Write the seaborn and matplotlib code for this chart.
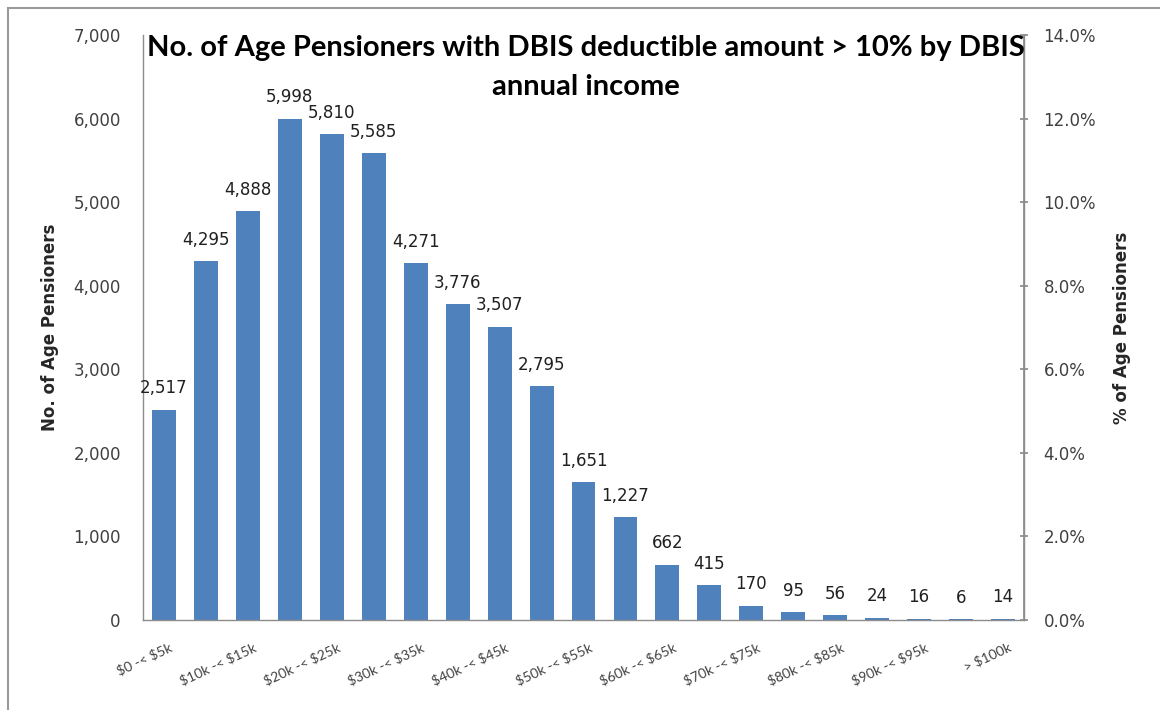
import matplotlib
matplotlib.use("Agg")
import matplotlib.pyplot as plt
import matplotlib.ticker as mticker
from matplotlib.patches import Rectangle
import seaborn as sns
import pandas as pd

categories = ["$0 -< $5k", "$5k -< $10k", "$10k -< $15k", "$15k -< $20k", "$20k -< $25k",
              "$25k -< $30k", "$30k -< $35k", "$35k -< $40k", "$40k -< $45k", "$45k -< $50k",
              "$50k -< $55k", "$55k -< $60k", "$60k -< $65k", "$65k -< $70k", "$70k -< $75k",
              "$75k -< $80k", "$80k -< $85k", "$85k -< $90k", "$90k -< $95k", "$95k -< $100k",
              "> $100k"]
counts = [2517, 4295, 4888, 5998, 5810, 5585, 4271, 3776, 3507, 2795,
          1651, 1227, 662, 415, 170, 95, 56, 24, 16, 6, 14]
left_ticks = [0, 1000, 2000, 3000, 4000, 5000, 6000, 7000]
right_ticks = [0.0, 0.02, 0.04, 0.06, 0.08, 0.10, 0.12, 0.14]

title = "No. of Age Pensioners with DBIS deductible amount > 10% by DBIS\nannual income"
ylabel_left = "No. of Age Pensioners"
ylabel_right = "% of Age Pensioners"

sns.set_theme(style="white")
plt.rcParams['font.family'] = ['DejaVu Sans']

def esc(s):
    return s.replace("$", r"\$")

df = pd.DataFrame({"cat": [esc(c) for c in categories], "count": counts})

fig = plt.figure(figsize=(11.6, 7.1), dpi=100)
ax = fig.add_axes([0.1233, 0.1268, 0.7595, 0.8239])

sns.barplot(data=df, x="cat", y="count", color="#4F81BD", saturation=1,
            width=0.57, ax=ax, edgecolor="none")

ax.set_ylim(0, 7000)
ax.set_yticks(left_ticks)
ax.yaxis.set_major_formatter(mticker.FuncFormatter(lambda v, p: f"{int(v):,}"))
ax.set_xlim(-0.5, len(categories) - 0.5)
pos = list(range(0, len(categories), 2))
ax.set_xticks([p + 0.12 for p in pos])
ax.set_xticklabels([esc(categories[i]) for i in pos], rotation=25, ha="right",
                   va="top", rotation_mode="anchor", fontsize=10, color="#404040",
                   family=["Lato", "DejaVu Sans"])
ax.tick_params(axis="x", length=0, pad=15)
ax.tick_params(axis="y", length=0, pad=16, labelsize=12, labelcolor="#404040")
ax.set_xlabel("")
ax.set_ylabel(ylabel_left, fontsize=12, fontweight="bold", labelpad=10)

ax.spines["top"].set_visible(False)
for s in ["left", "bottom", "right"]:
    ax.spines[s].set_color("#8c8c8c")
    ax.spines[s].set_linewidth(1.0)

for cont in ax.containers:
    ax.bar_label(cont, labels=[f"{v:,}" for v in counts], padding=9,
                 fontsize=12, color="#202020")

ax2 = ax.twinx()
ax2.set_ylim(0, 0.14)
ax2.set_yticks(right_ticks)
ax2.yaxis.set_major_formatter(mticker.PercentFormatter(1.0, decimals=1))
ax2.tick_params(axis="y", direction="inout", length=6, color="#8c8c8c",
                pad=11, labelsize=12, labelcolor="#404040")
ax2.set_ylabel(ylabel_right, fontsize=12, fontweight="bold", labelpad=12)
for s in ["top", "left", "bottom"]:
    ax2.spines[s].set_visible(False)
ax2.spines["right"].set_color("#8c8c8c")

fig.text(0.505, 0.951, title, ha="center", va="top", fontsize=21,
         fontweight="bold", color="black", linespacing=1.65,
         family=["Lato", "DejaVu Sans"])

fig.add_artist(Rectangle((0.0065, -0.2), 1.2, 1.1885, transform=fig.transFigure,
                         fill=False, edgecolor="#9a9a9a", linewidth=1.5))

fig.savefig("out.png", dpi=100)
